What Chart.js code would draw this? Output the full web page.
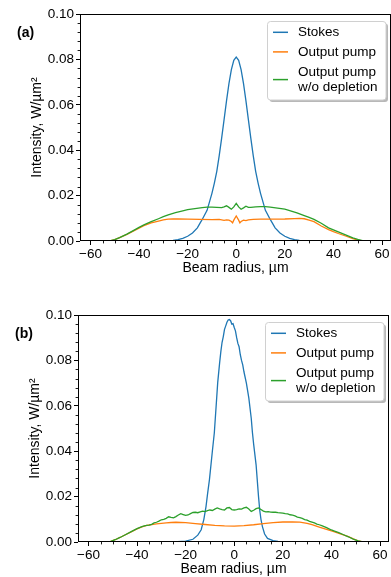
<!DOCTYPE html>
<html><head><meta charset="utf-8">
<script src="https://cdn.jsdelivr.net/npm/chart.js@4/dist/chart.umd.min.js"></script>
<style>
html,body{margin:0;padding:0;width:391px;height:577px;overflow:hidden;background:#fff}
#wrap{position:relative;width:391px;height:577px;overflow:hidden}
canvas{position:absolute}
#ca{left:0;top:0}
#cb{left:-2px;top:301px}
</style></head>
<body><div id="wrap"><canvas id="ca" width="400" height="301"></canvas><canvas id="cb" width="400" height="301"></canvas></div>
<script>
// ---- tick labels / categories ----
const xTicks = [-60,-40,-20,0,20,40,60];
const yTicks = [0,0.02,0.04,0.06,0.08,0.10];
const xMinor = [-55,-50,-45,-35,-30,-25,-15,-10,-5,5,10,15,25,30,35,45,50,55];
const yMinor = [0.004,0.008,0.012,0.016,0.024,0.028,0.032,0.036,0.044,0.048,0.052,0.056,0.064,0.068,0.072,0.076,0.084,0.088,0.092,0.096];
const seriesLabels = ['Stokes','Output pump','Output pump\nw/o depletion'];
const panelLabels = ['(a)','(b)'];

// ---- panel (a) ----
const aStokesX = [-62,-40,-30,-26,-24,-22,-20,-18,-16,-14,-12,-10,-9,-8,-7,-6,-5,-4,-3,-2,-1,0,1,2,3,4,5,6,7,8,9,10,12,14,16,18,20,22,24,26,30,40,62];
const aStokesY = [0,0,0.0001,0.0003,0.0006,0.0012,0.0021,0.0035,0.0058,0.0095,0.0135,0.0210,0.0255,0.0307,0.0376,0.0453,0.0535,0.0617,0.0693,0.0755,0.0796,0.081,0.0796,0.0755,0.0693,0.0617,0.0535,0.0453,0.0376,0.0307,0.0255,0.0210,0.0135,0.0095,0.0058,0.0035,0.0021,0.0012,0.0006,0.0003,0.0001,0,0];
const aPumpX = [-62,-56,-52,-50,-48,-45,-42,-40,-38,-35,-32,-30,-28,-26,-24,-20,-15,-10,-7,-5,-4,-3,-2,-1.5,-1,0,1,1.5,2,3,4,5,7,10,15,20,24,26,28,30,32,35,38,40,42,45,48,50,52,56,62];
const aPumpY = [0,0,0.0001,0.0006,0.0015,0.0029,0.0046,0.0057,0.0068,0.0080,0.0088,0.0093,0.0096,0.0097,0.0097,0.0096,0.0095,0.0094,0.0095,0.0091,0.0093,0.0092,0.0086,0.0080,0.0092,0.0110,0.0092,0.0080,0.0086,0.0092,0.0090,0.0093,0.0095,0.0096,0.0096,0.0097,0.0099,0.0100,0.0098,0.0092,0.0085,0.0066,0.0050,0.0041,0.0033,0.0022,0.0010,0.0004,0.0001,0,0];
const aFreeX = [-62,-56,-52,-50,-48,-45,-42,-40,-38,-35,-32,-30,-28,-25,-22,-20,-17,-14,-12,-10,-8,-6,-5,-4,-3,-2,-1,0,1,2,3,4,5,6,8,10,12,14,17,20,22,25,28,30,32,35,38,40,42,45,48,50,52,56,62];
const aFreeY = [0,0,0.0001,0.0006,0.0015,0.0030,0.0048,0.0060,0.0071,0.0085,0.0098,0.0107,0.0115,0.0125,0.0133,0.0138,0.0143,0.0147,0.0149,0.0149,0.0148,0.0147,0.0150,0.0155,0.0148,0.0140,0.0150,0.0166,0.0150,0.0140,0.0146,0.0153,0.0148,0.0148,0.0150,0.0151,0.0151,0.0149,0.0145,0.0140,0.0134,0.0124,0.0112,0.0104,0.0095,0.0078,0.0058,0.0049,0.0040,0.0027,0.0014,0.0007,0.0002,0,0];

// ---- panel (b) ----
const bStokesX = [-25,-20,-17,-15,-13.6,-12.5,-11.6,-11,-10.2,-9,-8.2,-7.5,-6.8,-6,-5.5,-5,-4.5,-4,-3.5,-3,-2.5,-2,-1.5,-1,-0.5,0,0.5,1,1.5,2,2.5,3,3.5,4,5,6,7,7.5,8,9,10,10.5,11,11.6,12.5,13.7,16,18,20,25];
const bStokesY = [0,0.0004,0.0012,0.0030,0.0054,0.0100,0.0157,0.0210,0.0275,0.0400,0.0480,0.0590,0.0702,0.0790,0.0840,0.0880,0.0905,0.0937,0.0952,0.0968,0.0978,0.0980,0.0975,0.0960,0.0962,0.0945,0.0930,0.0900,0.0875,0.0860,0.0825,0.0800,0.0780,0.0750,0.0700,0.0635,0.0545,0.0481,0.0430,0.0340,0.0200,0.0140,0.0100,0.0068,0.0035,0.0016,0.0006,0.0003,0.0001,0];
const bPumpX = [-61,-55,-51,-49,-47,-45,-42,-40,-38,-36,-34,-32,-30,-28,-26,-24,-22,-20,-18,-16,-12,-8,-4,0,4,8,12,16,20,24,27,30,32,35,38,41,44,47,49,51,53,55,61];
const bPumpY = [0,0,0.0002,0.0010,0.0020,0.0031,0.0047,0.0058,0.0067,0.0073,0.0077,0.0080,0.0082,0.0084,0.0086,0.0087,0.0086,0.0085,0.0083,0.0081,0.0077,0.0073,0.0071,0.0070,0.0072,0.0076,0.0081,0.0085,0.0088,0.0089,0.0088,0.0082,0.0076,0.0066,0.0056,0.0046,0.0035,0.0024,0.0014,0.0005,0.0001,0,0];
const bFreeX = [-61,-55,-51,-49,-47,-45,-42,-40,
  -38,-37,-36,-35,-34,-33,-32,-31,-30,-29,
  -28,-27,-26,-25,-24,-23,-22,-21,-20,-19,
  -18,-17,-16,-15,-14,-13,-12,-11,-10,-9,
  -8,-7,-6,-5,-4,-3,-2,-1,0,1,
  2,3,4,5,6,7,8,9,10,11,
  12,13,14,15,16,17,18,19,20,21,
  22,23,24,25,26,27,28,29,30,31,
  32,33,34,35,36,37,38,39,40,41,
  43,45,47,49,51,53,55,61];
const bFreeY = [0,0,0.0002,0.0010,0.0020,0.0031,0.0048,0.0059,
  0.0068,0.0071,0.0073,0.0074,0.0078,0.0084,0.0087,0.0092,0.0098,0.0100,
  0.0104,0.0111,0.0108,0.0106,0.0112,0.0119,0.0125,0.0121,0.0117,0.0119,
  0.0125,0.0130,0.0131,0.0129,0.0133,0.0136,0.0134,0.0138,0.0141,0.0139,
  0.0145,0.0150,0.0146,0.0143,0.0141,0.0150,0.0152,0.0143,0.0141,0.0143,
  0.0146,0.0145,0.0150,0.0153,0.0145,0.0135,0.0140,0.0147,0.0150,0.0143,
  0.0136,0.0133,0.0134,0.0132,0.0131,0.0131,0.0129,0.0128,0.0127,0.0125,
  0.0124,0.0120,0.0118,0.0115,0.0110,0.0107,0.0104,0.0099,0.0096,0.0091,
  0.0088,0.0084,0.0079,0.0076,0.0072,0.0068,0.0063,0.0058,0.0053,0.0049,
  0.0041,0.0032,0.0023,0.0013,0.0005,0.0001,0,0];

const seriesColors = ['#1f77b4','#ff7f0e','#2ca02c'];
const FAMILY = '"Liberation Sans", Arial, Helvetica, sans-serif';

function pts(xs, ys){ return xs.map((x,i)=>({x:x, y:ys[i]})); }
function fmtX(v){ return v < 0 ? '\u2212' + Math.abs(v) : String(v); }

const framePlugin = {
  id:'frame',
  afterDatasetsDraw(chart, args, opts){
    const ctx = chart.ctx;
    const {left,right,top,bottom} = chart.chartArea;
    const xs = chart.scales.x, ys = chart.scales.y;
    ctx.save();
    ctx.strokeStyle = '#000'; ctx.lineWidth = 1;
    ctx.strokeRect(left+0.5, top+0.5, right-left-1, bottom-top-1);
    ctx.beginPath();
    xMinor.forEach(v=>{ const p = Math.round(xs.getPixelForValue(v))+0.5; ctx.moveTo(p,bottom); ctx.lineTo(p,bottom+2.4); });
    yMinor.forEach(v=>{ const p = Math.round(ys.getPixelForValue(v))+0.5; ctx.moveTo(left,p); ctx.lineTo(left-2.4,p); });
    ctx.lineWidth = 0.9; ctx.stroke();
    const bx = right-123.5, by = top+7.5, bw = 118.5, bh = 78.5, r = 3;
    function rr(x,y,w,h){ ctx.beginPath(); ctx.moveTo(x+r,y); ctx.lineTo(x+w-r,y); ctx.quadraticCurveTo(x+w,y,x+w,y+r); ctx.lineTo(x+w,y+h-r); ctx.quadraticCurveTo(x+w,y+h,x+w-r,y+h); ctx.lineTo(x+r,y+h); ctx.quadraticCurveTo(x,y+h,x,y+h-r); ctx.lineTo(x,y+r); ctx.quadraticCurveTo(x,y,x+r,y); ctx.closePath(); }
    rr(bx+2, by+2, bw, bh); ctx.fillStyle = 'rgba(0,0,0,0.28)'; ctx.fill();
    rr(bx, by, bw, bh); ctx.fillStyle = '#fff'; ctx.fill();
    ctx.strokeStyle = '#d0d0d0'; ctx.lineWidth = 1; ctx.stroke();
    ctx.font = '13.5px ' + FAMILY; ctx.fillStyle = '#000'; ctx.textBaseline = 'middle'; ctx.textAlign = 'left';
    const rows = [[18.3],[37.9],[57.9,73.3]];
    chart.data.datasets.forEach((ds,i)=>{
      const lines = ds.label.split('\n');
      const ys2 = rows[i];
      const hy = ys2.length > 1 ? (ys2[0]+ys2[1])/2 : ys2[0];
      ctx.beginPath(); ctx.strokeStyle = ds.borderColor; ctx.lineWidth = 1.5;
      ctx.moveTo(bx+5.5, top+hy); ctx.lineTo(bx+20.5, top+hy); ctx.stroke();
      lines.forEach((t,k)=>{ ctx.fillText(t, bx+30.5, top+ys2[k]); });
    });
    ctx.font = 'bold 14px ' + FAMILY; ctx.fillStyle = '#000';
    ctx.fillText(opts.panel, 17, 33);
    ctx.restore();
  }
};

function makeChart(id, panel, series){
  return new Chart(document.getElementById(id), {
    type:'line',
    data:{ datasets: series.map((s,i)=>({
      label: seriesLabels[i], data: pts(s[0], s[1]), borderColor: seriesColors[i],
      backgroundColor: seriesColors[i], borderWidth: 1.3, pointRadius: 0, tension: 0, fill: false, order: 2-i
    })) },
    options:{
      responsive:false, animation:false, devicePixelRatio:1,
      layout:{ padding:{ top:14, right:9, left:0, bottom:0 } },
      plugins:{ legend:{display:false}, tooltip:{enabled:false}, frame:{ panel: panel } },
      scales:{
        x:{ type:'linear', min:-64.3, max:63.7,
          afterFit(s){ s.height = 60; },
          afterBuildTicks(s){ s.ticks = xTicks.map(v=>({value:v})); },
          ticks:{ callback: fmtX, font:{family:FAMILY, size:13.5}, color:'#000', padding:1, maxRotation:0, autoSkip:false },
          grid:{ display:true, drawOnChartArea:false, drawTicks:true, tickLength:4, tickColor:'#000', tickWidth:1 },
          border:{ display:false },
          title:{ display:true, text:'Beam radius, µm', font:{family:FAMILY, size:14}, color:'#000', padding:{top:0, bottom:24.6} }
        },
        y:{ type:'linear', min:0, max:0.1,
          afterFit(s){ s.width = 80; },
          afterBuildTicks(s){ s.ticks = yTicks.map(v=>({value:v})); },
          ticks:{ callback: v=>Number(v).toFixed(2), font:{family:FAMILY, size:13.5}, color:'#000', padding:2, autoSkip:false },
          grid:{ display:true, drawOnChartArea:false, drawTicks:true, tickLength:4, tickColor:'#000', tickWidth:1 },
          border:{ display:false },
          title:{ display:true, text:'Intensity, W/µm²', font:{family:FAMILY, size:14}, color:'#000', padding:{top:28.6, bottom:0} }
        }
      }
    },
    plugins:[framePlugin]
  });
}

makeChart('ca', panelLabels[0], [[aStokesX,aStokesY],[aPumpX,aPumpY],[aFreeX,aFreeY]]);
makeChart('cb', panelLabels[1], [[bStokesX,bStokesY],[bPumpX,bPumpY],[bFreeX,bFreeY]]);
</script>
</body></html>
